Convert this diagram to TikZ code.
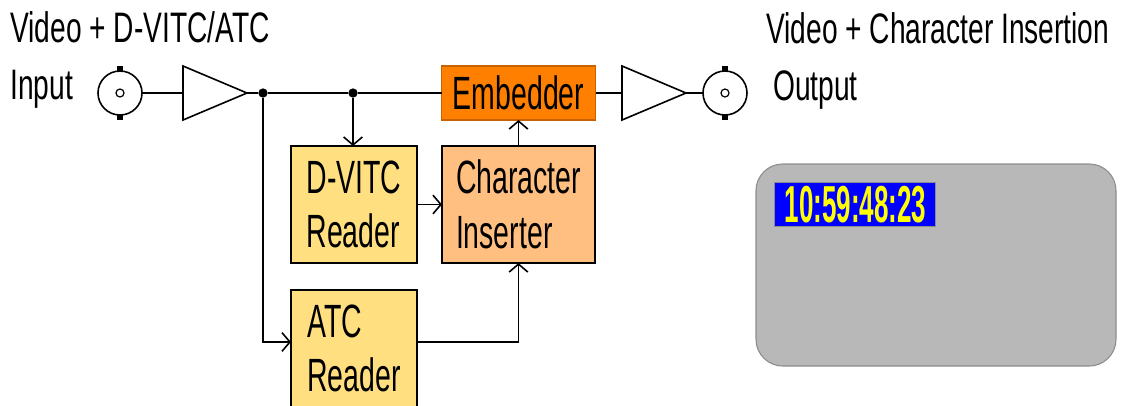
\documentclass[tikz,border=0pt]{standalone}
\usepackage{fontspec}
\setmainfont{Liberation Sans}
\newfontfamily\hdrfont[FakeStretch=0.66]{Liberation Sans}
\newfontfamily\boxfont[FakeStretch=0.61]{Liberation Sans}
\newfontfamily\tcfont[FakeStretch=0.5]{Liberation Sans}
\usetikzlibrary{arrows.meta,positioning,shapes.geometric}
\definecolor{RdYellow}{HTML}{FFDF80}
\definecolor{InsOrange}{HTML}{FFBF80}
\definecolor{EmbOrange}{HTML}{FF8000}
\definecolor{EmbEdge}{HTML}{C86400}
\definecolor{ScrGray}{HTML}{B8B8B8}
\definecolor{ScrEdge}{HTML}{8C8C8C}
\definecolor{TcBlue}{HTML}{0000FF}
\definecolor{TcYellow}{HTML}{FFFF00}
\tikzset{blk/.style={draw=black,line width=1.2pt,align=left,inner sep=0pt,outer sep=0pt,font=\boxfont\fontsize{35}{41}\selectfont}, reader/.style={blk,fill=RdYellow,minimum width=94.5pt,minimum height=87.75pt}, inserter/.style={blk,fill=InsOrange,minimum width=114.75pt,minimum height=87.75pt}, embedder/.style={blk,draw=EmbEdge,fill=EmbOrange,minimum width=115.5pt,minimum height=40.5pt}, amp/.style={isosceles triangle,isosceles triangle stretches,draw,line width=1.2pt,inner sep=0pt,outer sep=0pt,minimum width=40.5pt,minimum height=48pt}, bnc/.style={circle,draw,line width=1.2pt,inner sep=0pt,outer sep=0pt,minimum size=33pt}, junction/.style={circle,fill=black,inner sep=0pt,minimum size=7pt}, hdr/.style={inner sep=0pt,anchor=base west,font=\hdrfont\fontsize{32}{36}\selectfont}, wire/.style={line width=1.2pt}, arrow/.style={wire,-{Straight Barb[length=6pt,width=14pt]}}}

\begin{document}
\begin{tikzpicture}[x=0.75pt,y=-0.75pt]
\useasboundingbox (0,0) rectangle (1124,405);
% labels
\node[hdr] (hdrin) at (10,42) {Video + D-VITC/ATC};
\node[hdr] (lblin) at (10,99) {Input};
\node[hdr] (hdrout) at (766,43) {Video + Character Insertion};
\node[hdr] (lblout) at (773,100) {Output};
% input side
\node[bnc] (bncin) at (120,93) {};
\node[amp,anchor=lower side] (ampin) at (183,93) {};
\node[junction] (tapA) at (263,93) {};
\node[junction] (tapB) at (353,93) {};
% readers, inserter, embedder
\node[reader,anchor=north west] (dvitc) at (291,146) {D-VITC\\Reader};
\node[inserter,right=18.75pt of dvitc] (charins) {Character\\Inserter};
\node[reader,below=20.25pt of dvitc] (atc) {ATC\\Reader};
\node[embedder,above=19.5pt of charins] (embed) {Embedder};
% output side
\node[amp,anchor=lower side] (ampout) at (622,93) {};
\node[bnc] (bncout) at (725,93) {};
\foreach \c in {bncin,bncout}{
  \draw[line width=0.9pt] (\c) circle (3pt);
  \fill ([xshift=-1.9pt,yshift=-0.5pt]\c.north) rectangle ([xshift=1.9pt,yshift=3.5pt]\c.north);
  \fill ([xshift=-1.9pt,yshift=0.5pt]\c.south) rectangle ([xshift=1.9pt,yshift=-3.5pt]\c.south);
}
% connectors
\draw[wire] (bncin) -- (ampin);
\draw[wire] (ampin.apex) -- (tapA) -- (tapB) -- (embed);
\draw[arrow] (tapA) |- ([yshift=4.9pt]atc.west);
\draw[arrow] (tapB) -- (tapB |- dvitc.north);
\draw[arrow] (dvitc) -- (charins);
\draw[arrow] ([yshift=4.9pt]atc.east) -| (charins);
\draw[arrow] (charins) -- (embed);
\draw[wire] (embed) -- (ampout) -- (bncout);
% screen
\node[draw=ScrEdge,fill=ScrGray,line width=0.8pt,rounded corners=20pt,inner sep=0pt,minimum width=270pt,minimum height=151.5pt] (screen) at (936,265) {};
\node[draw=ScrEdge,fill=TcBlue,text=TcYellow,line width=0.6pt,inner sep=0pt,anchor=north west,minimum width=120.75pt,minimum height=33pt,font=\tcfont\bfseries\fontsize{39}{39}\selectfont] (tcode) at ([shift={(19,19)}]screen.north west) {10:59:48:23};
\end{tikzpicture}
\end{document}
